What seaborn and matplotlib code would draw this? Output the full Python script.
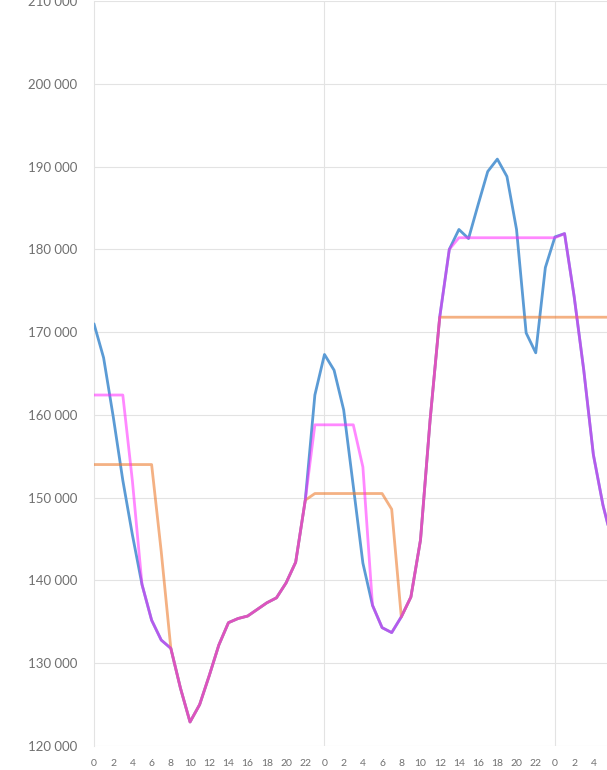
import numpy as np
import pandas as pd
import matplotlib
matplotlib.use("Agg")
import matplotlib.pyplot as plt
import seaborn as sns

# Hourly load over two and a bit days (hour index 0 = midnight of day 1)
hours = list(range(55))

load_actual = [
    171000, 166900, 159800, 152100, 145500, 139500, 135200, 132800, 131800, 127000,
    122900, 125000, 128500, 132200, 134900, 135400, 135700, 136500, 137300, 137900,
    139700, 142200, 149700, 162400, 167300, 165400, 160600, 151400, 142100, 137000,
    134300, 133700, 135600, 138000, 144900, 159400, 171800, 180000, 182400, 181300,
    185400, 189400, 190900, 188800, 182400, 169900, 167500, 177800, 181500, 181900,
    174300, 165400, 155200, 149100, 144500,
]

# Block bids: flat levels where they sit above the hourly curve
pink_blocks = {0: 162400, 1: 162400, 2: 162400, 3: 162400, 4: 152000,
               23: 158800, 24: 158800, 25: 158800, 26: 158800, 27: 158800, 28: 153700,
               38: 181400, 39: 181400, 40: 181400, 41: 181400, 42: 181400, 43: 181400,
               44: 181400, 45: 181400, 46: 181400, 47: 181400, 48: 181400}
orange_blocks = {0: 154000, 1: 154000, 2: 154000, 3: 154000, 4: 154000, 5: 154000,
                 6: 154000, 7: 143500,
                 23: 150500, 24: 150500, 25: 150500, 26: 150500, 27: 150500,
                 28: 150500, 29: 150500, 30: 150500, 31: 148600}
orange_flat_from = 36
orange_flat_level = 171800

load_pink = [pink_blocks.get(h, v) for h, v in zip(hours, load_actual)]
load_orange = [orange_blocks.get(h, v) if h < orange_flat_from else orange_flat_level
               for h, v in zip(hours, load_actual)]

df = pd.DataFrame({"hour": hours, "actual": load_actual,
                   "pink": load_pink, "orange": load_orange})

y_ticks = list(range(120000, 210001, 10000))
x_ticks = list(range(0, 54, 2))
x_tick_labels = [str(h % 24) for h in x_ticks]
day_starts = [24, 48]

sns.set_theme(style="white")
plt.rcParams["font.family"] = ["Lato", "DejaVu Sans"]

fig = plt.figure(figsize=(6.07, 7.70), dpi=100)
ax = fig.add_axes([94 / 607, 24 / 770, (607 - 94) / 607, (746 - 1) / 770])

sns.lineplot(data=df, x="hour", y="actual", ax=ax, color="#5B9BD5", lw=2.0, zorder=3)
sns.lineplot(data=df, x="hour", y="orange", ax=ax, color="#ED7D31", lw=2.0, alpha=0.6, zorder=4)
sns.lineplot(data=df, x="hour", y="pink", ax=ax, color="#FF27FF", lw=2.0, alpha=0.55, zorder=5)

ax.set_xlim(0, 53.42)
ax.set_ylim(120000, 210000)
ax.set_yticks(y_ticks)
ax.set_yticklabels([f"{v:,}".replace(",", " ") for v in y_ticks],
                   fontsize=9.5, color="#707070")
ax.set_xticks(x_ticks)
ax.set_xticklabels(x_tick_labels, fontsize=7.5, color="#707070")
ax.tick_params(axis="y", length=0, pad=12)
ax.tick_params(axis="x", length=0, pad=9)
ax.set_xlabel("")
ax.set_ylabel("")

ax.grid(axis="y", color="#E3E3E3", lw=0.8, zorder=0)
for d in day_starts:
    ax.axvline(d, color="#E3E3E3", lw=0.8, zorder=0)

for side in ["top", "right", "bottom"]:
    ax.spines[side].set_visible(False)
ax.spines["left"].set_color("#E3E3E3")
ax.spines["left"].set_linewidth(0.8)

fig.savefig("out.png", dpi=100)
